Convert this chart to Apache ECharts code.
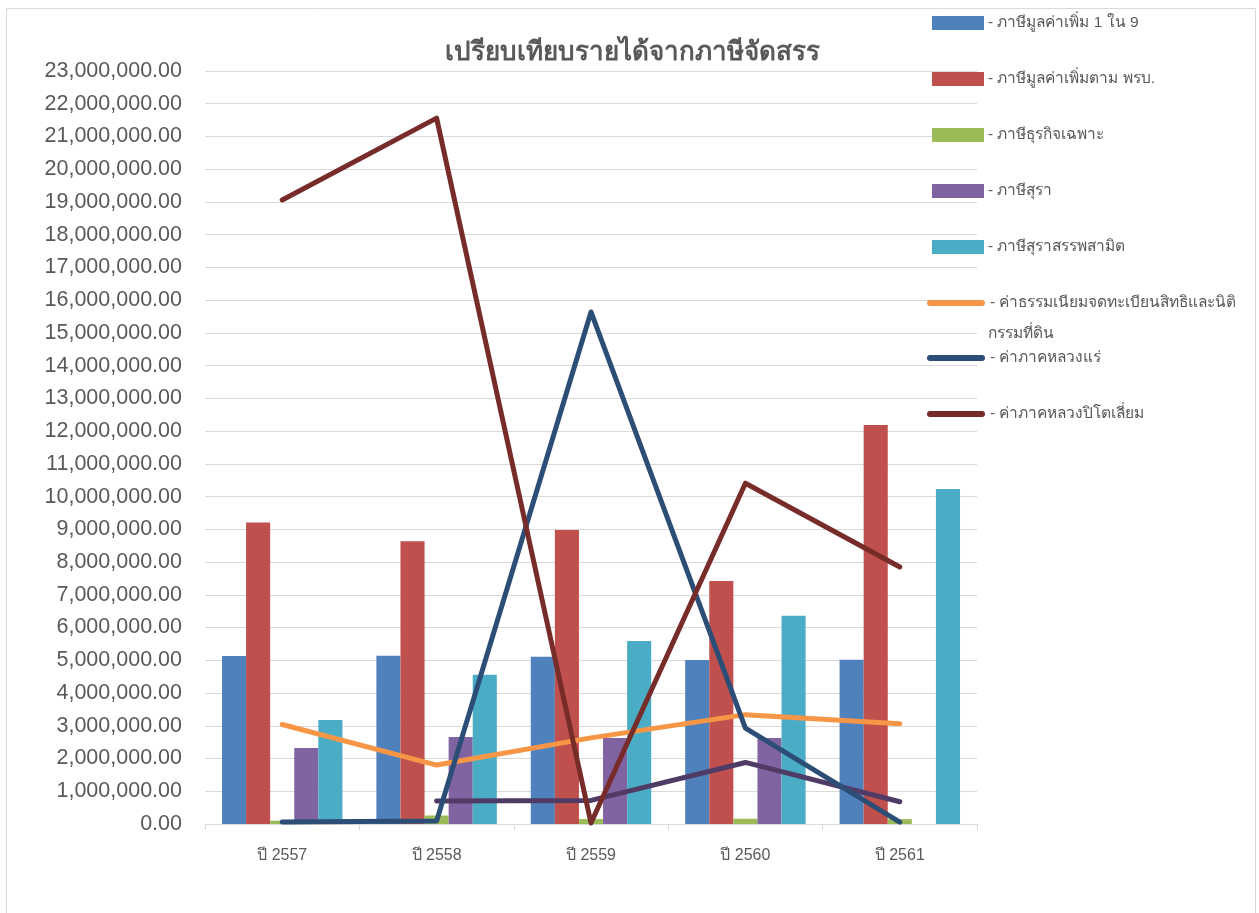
<!DOCTYPE html>
<html>
<head>
<meta charset="utf-8">
<script src="https://cdn.jsdelivr.net/npm/echarts@6/dist/echarts.min.js"></script>
<style>
html,body{margin:0;padding:0;background:#fff;}
#c{width:1259px;height:913px;}
</style>
</head>
<body>
<div id="c"></div>
<script>
var categories = ['ปี 2557', 'ปี 2558', 'ปี 2559', 'ปี 2560', 'ปี 2561'];
var yTicks = { min: 0, max: 23000000, interval: 1000000 };

var vat19 = [5130000, 5140000, 5110000, 5010000, 5020000];
var vatAct = [9210000, 8640000, 8980000, 7420000, 12190000];
var specificBiz = [100000, 260000, 150000, 160000, 150000];
var liquor = [2320000, 2660000, 2630000, 2630000, 0];
var liquorExcise = [3180000, 4560000, 5590000, 6360000, 10230000];
var landFee = [3040000, 1800000, 2630000, 3340000, 3060000];
var mineralRoyalty = [60000, 90000, 15640000, 2930000, 60000];
var petroleumRoyalty = [19060000, 21560000, 30000, 10410000, 7850000];
var extraLine = [null, 700000, 720000, 1880000, 680000];

var barNames = ['ภาษีมูลค่าเพิ่ม 1 ใน 9', 'ภาษีมูลค่าเพิ่มตาม พรบ.', 'ภาษีธุรกิจเฉพาะ', 'ภาษีสุรา', 'ภาษีสุราสรรพสามิต'];
var lineNames = ['ค่าธรรมเนียมจดทะเบียนสิทธิและนิติ', 'ค่าภาคหลวงแร่', 'ค่าภาคหลวงปิโตเลี่ยม'];
var wrapTail = 'กรรมที่ดิน';
var extraName = 'ภาษีสุรา (เส้น)';

var barColors = ['#4f81bd', '#c0504d', '#9bbb59', '#8064a2', '#4bacc6'];
var lineColors = ['#f79646', '#2c4d76', '#772c2a'];
var extraColor = '#4f3b66';

var barData = [vat19, vatAct, specificBiz, liquor, liquorExcise];
var lineData = [landFee, mineralRoyalty, petroleumRoyalty];

function fmt(v) {
  var s = Math.round(v).toString().replace(/\B(?=(\d{3})+(?!\d))/g, ',');
  return s + '.00';
}

var series = [];
barNames.forEach(function (n, i) {
  series.push({
    name: n, type: 'bar', data: barData[i],
    barGap: '0%', barCategoryGap: '22%',
    itemStyle: { color: barColors[i] }
  });
});
lineNames.forEach(function (n, i) {
  series.push({
    name: n, type: 'line', data: lineData[i], symbol: 'none', z: 5,
    lineStyle: { color: lineColors[i], width: 5, cap: 'round', join: 'round' },
    itemStyle: { color: lineColors[i] }
  });
});
series.push({
  name: extraName, type: 'line', data: extraLine, symbol: 'none', z: 4,
  lineStyle: { color: extraColor, width: 5, cap: 'round', join: 'round' },
  itemStyle: { color: extraColor }
});

var capsule = 'path://M3,0 L55,0 A3,3 0 0 1 55,6 L3,6 A3,3 0 0 1 3,0 Z';
var allNames = barNames.concat(lineNames);
var legendTops = [22, 78, 134, 190, 246, 302, 357, 413];
var legends = allNames.map(function (n, i) {
  var isLine = i >= barNames.length;
  return {
    data: [{ name: n, icon: isLine ? capsule : 'rect' }],
    orient: 'vertical', left: isLine ? 927 : 932, top: legendTops[i] - 7,
    padding: 0, itemWidth: isLine ? 58 : 52, itemHeight: isLine ? 6 : 14, itemGap: 4,
    selectedMode: false,
    formatter: function (name) { return '- ' + name; },
    textStyle: { color: '#595959', fontSize: 15.5, fontFamily: 'Liberation Sans, sans-serif', padding: [0, 0, 0, isLine ? 0 : -1] }
  };
});

var chart = echarts.init(document.getElementById('c'), null, { renderer: 'canvas' });
chart.setOption({
  backgroundColor: '#ffffff',
  animation: false,
  title: {
    text: 'เปรียบเทียบรายได้จากภาษีจัดสรร', left: 627, top: 35, textAlign: 'center',
    textStyle: { color: '#595959', fontSize: 26, fontWeight: 'bold', fontFamily: 'Liberation Sans, sans-serif' }
  },
  legend: legends,
  graphic: [
    { type: 'rect', shape: { x: 6.5, y: 8.5, width: 1249, height: 920 }, style: { fill: 'none', stroke: '#d9d9d9', lineWidth: 1 }, silent: true, z: -10 },
    { type: 'text', left: 988, top: 326, style: { text: wrapTail, fill: '#595959', fontSize: 15.5, fontFamily: 'Liberation Sans, sans-serif' } }
  ],
  grid: { left: 205, right: 282, top: 71, bottom: 89, containLabel: false },
  xAxis: {
    type: 'category', data: categories, boundaryGap: true,
    axisLine: { lineStyle: { color: '#d9d9d9', width: 1 } },
    axisTick: { show: true, interval: 0, length: 6, lineStyle: { color: '#d9d9d9' } },
    axisLabel: { color: '#595959', fontSize: 16, margin: 24, fontFamily: 'Liberation Sans, sans-serif' },
    splitLine: { show: false }
  },
  yAxis: {
    type: 'value', min: yTicks.min, max: yTicks.max, interval: yTicks.interval,
    axisLine: { show: false }, axisTick: { show: false },
    axisLabel: { color: '#595959', fontSize: 21.5, margin: 23, formatter: fmt, fontFamily: 'Liberation Sans, sans-serif' },
    splitLine: { lineStyle: { color: '#d9d9d9', width: 1 } }
  },
  series: series
});
</script>
</body>
</html>
